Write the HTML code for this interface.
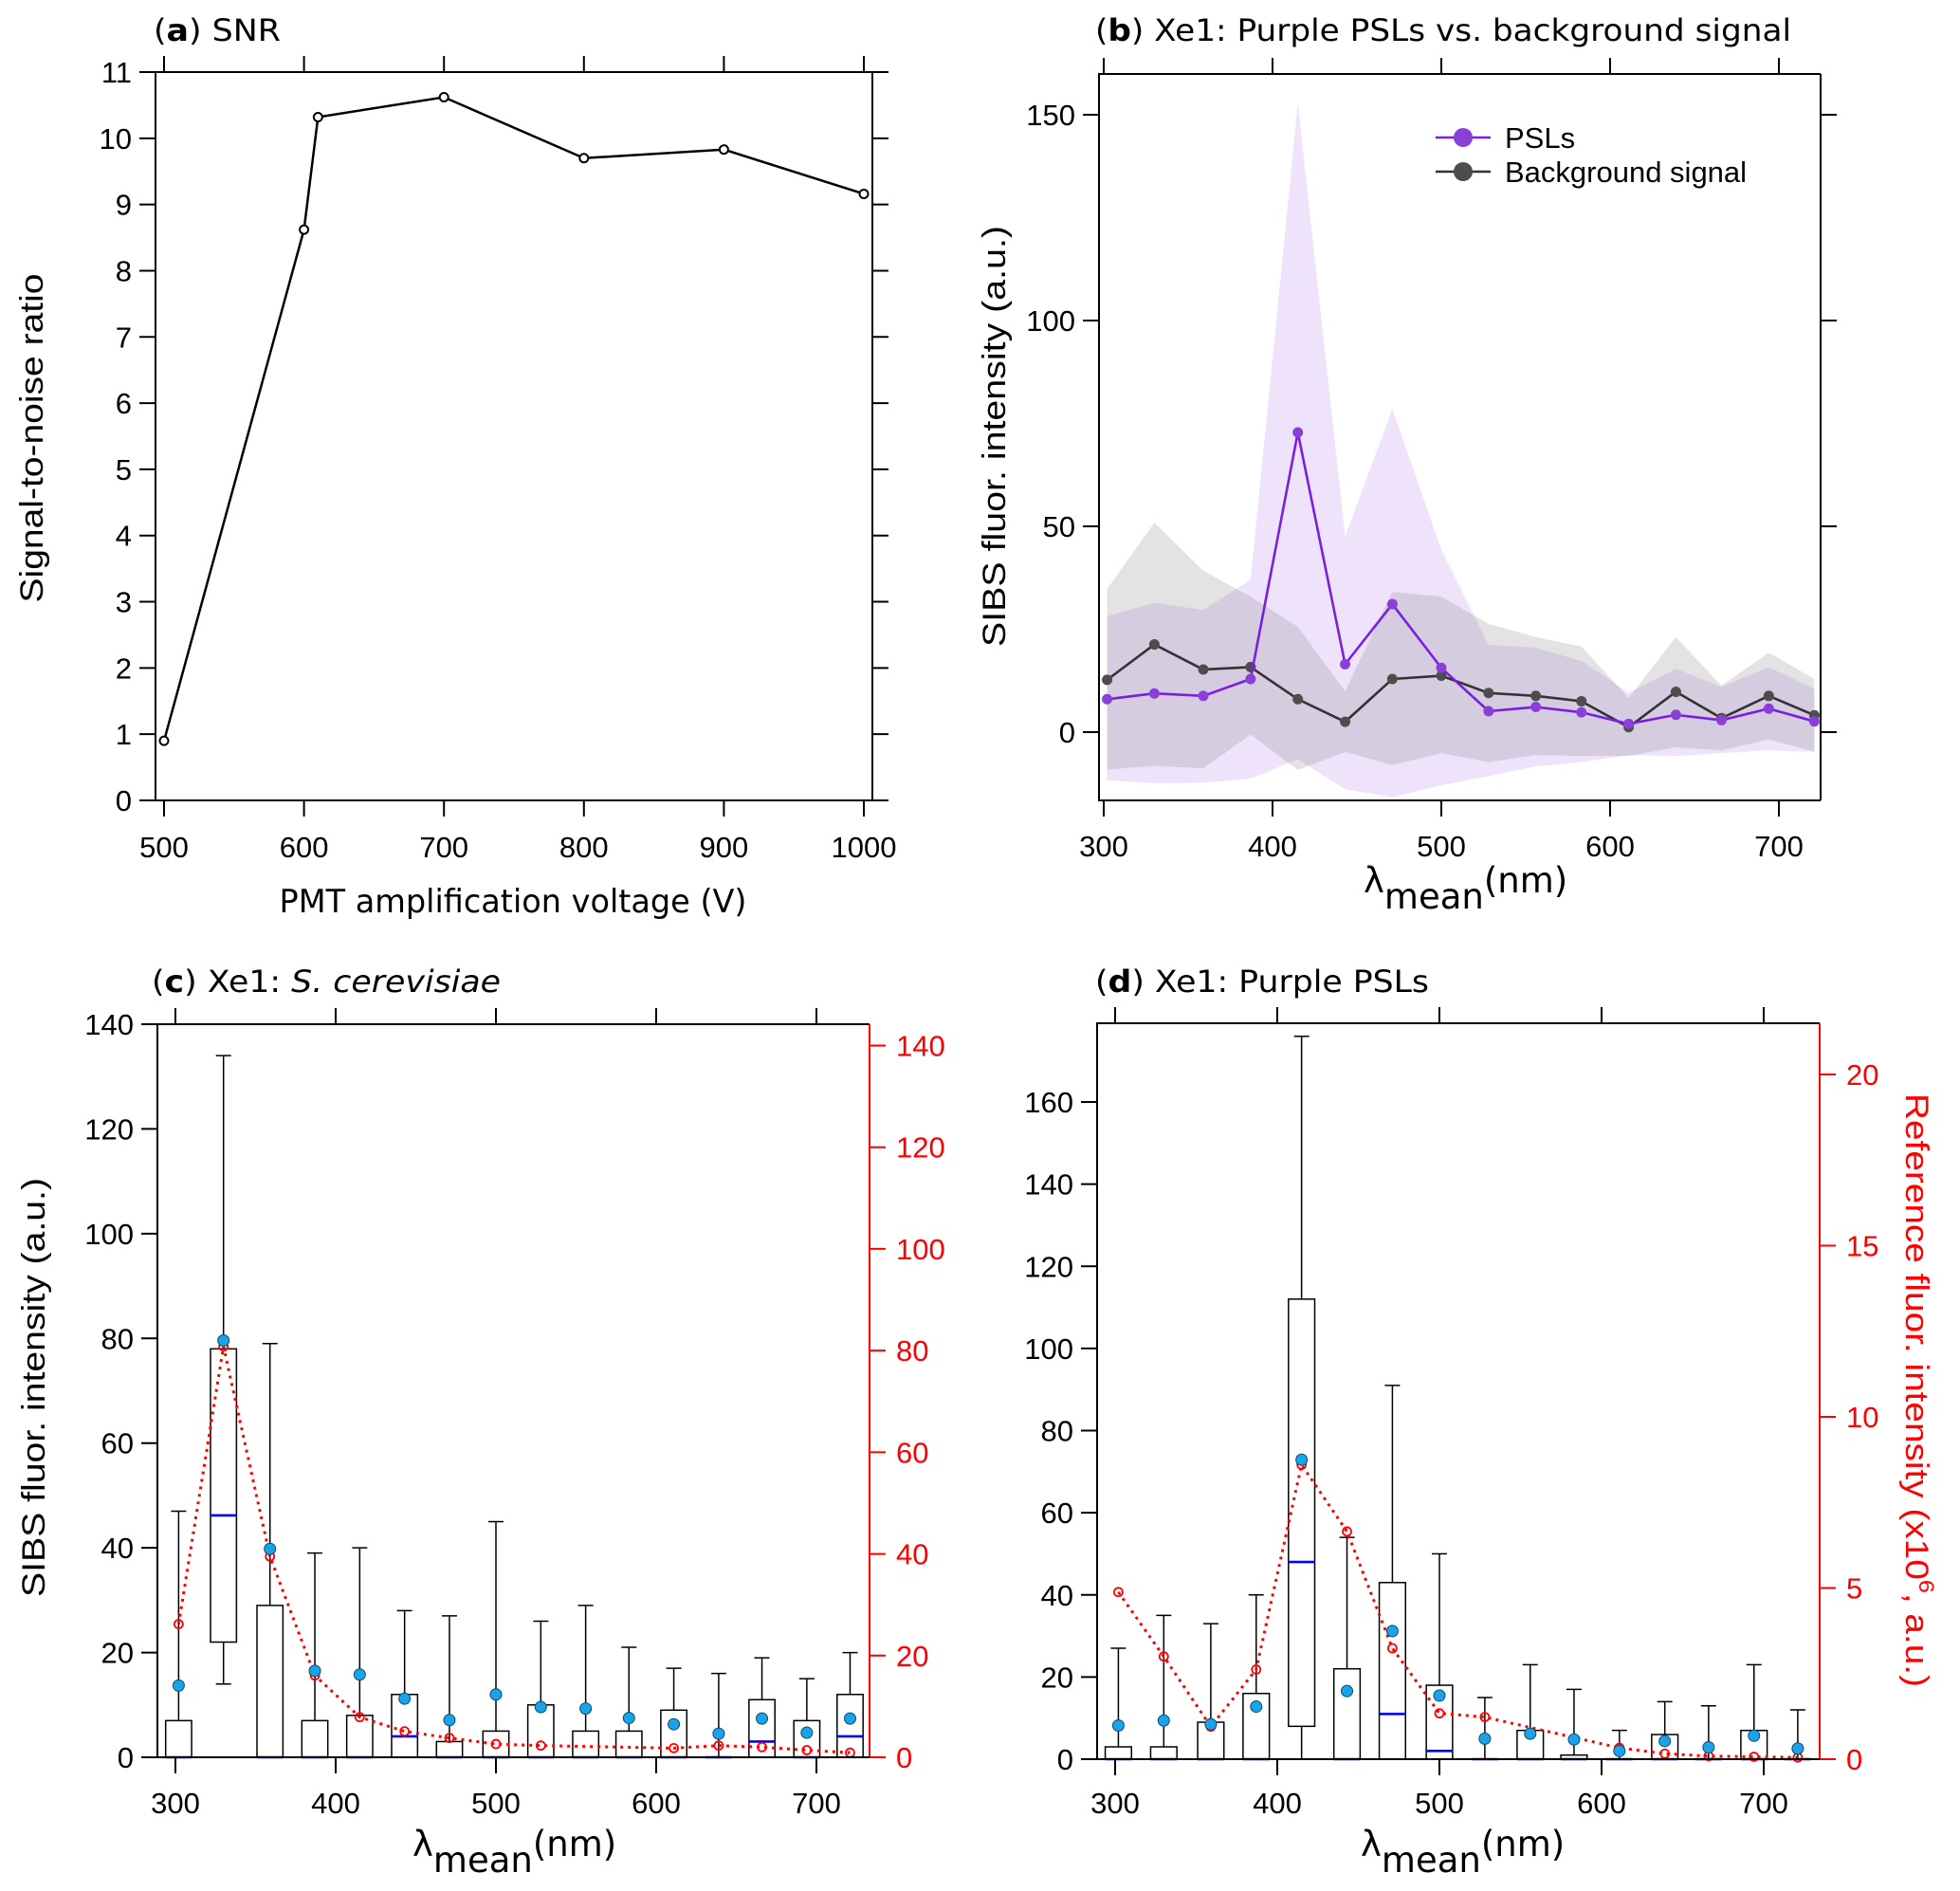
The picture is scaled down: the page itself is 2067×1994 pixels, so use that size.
<!DOCTYPE html>
<html><head><meta charset="utf-8"><style>
html,body{margin:0;padding:0;background:#fff}
svg{display:block}
text{font-family:"Liberation Sans",Arial,sans-serif}
.t{font-family:"DejaVu Sans","Liberation Sans",sans-serif}
</style></head><body>
<svg id="fig" xmlns="http://www.w3.org/2000/svg" width="2067" height="1994" viewBox="0 0 2067 1994">
<rect width="2067" height="1994" fill="#fff"/>
<g id="pa"></g>
<g id="pb"></g>
<g id="pc"></g>
<g id="pd"></g>
</svg>
<script>
// Panel a
const aVolt=[500,600,610,700,800,900,1000];
const aSNR=[0.9,8.62,10.32,10.62,9.7,9.83,9.16];
const aXTicks=[500,600,700,800,900,1000];
const aYTicks=[0,1,2,3,4,5,6,7,8,9,10,11];
// Panel b
const wl=[302,330,359,387,415,443,471,500,528,556,583,611,639,666,694,721];
const bPSL=[8.0,9.4,8.8,12.9,72.8,16.5,31.1,15.6,5.1,6.1,4.8,2.0,4.2,2.9,5.7,2.6];
const bBG=[12.7,21.3,15.2,15.8,8.0,2.5,12.9,13.7,9.5,8.8,7.5,1.2,9.8,3.4,8.8,4.1];
const bPSLup=[28.2,31.4,29.7,37,152.8,47.5,78.5,44.3,21.2,20.5,17.3,9.5,15.4,11,15.8,10.5];
const bPSLlo=[-11.7,-12.4,-12.3,-11.3,-6.6,-13.9,-15.8,-12.9,-10.7,-8.3,-7.3,-5.6,-5.8,-5.1,-4.4,-4.8];
const bBGup=[34.8,50.9,39.2,32.9,25.6,9.9,34.1,32.9,26.3,23.1,20.8,8.3,23.1,11.3,19.3,12.9];
const bBGlo=[-9.1,-8.2,-8.8,-0.6,-9.2,-4.8,-8,-5.1,-7.3,-5.6,-5.8,-5.8,-3.7,-4.4,-1.8,-4.7];
const bYTicks=[0,50,100,150];
const nmTicks=[300,400,500,600,700];
// Panel c
const cQ1=[0,22,0,0,0,0,0,0,0,0,0,0,0,0,0,0];
const cQ3=[7,78,29,7,8,12,3,5,10,5,5,9,0,11,7,12];
const cMed=[0,46.2,0,0,0,4,0,0,0,0,0,0,0,3,0,4];
const cMax=[47,134,79,39,40,28,27,45,26,29,21,17,16,19,15,20];
const cMin=[0,14,0,0,0,0,0,0,0,0,0,0,0,0,0,0];
const cMean=[13.7,79.6,39.8,16.5,15.8,11.2,7.1,12,9.6,9.3,7.5,6.3,4.5,7.4,4.7,7.4];
const cRef=[26.2,80.8,39.5,16.1,7.9,5.1,3.8,2.6,2.3,null,null,1.8,2.3,2.0,1.4,0.9];
const cYTicks=[0,20,40,60,80,100,120,140];
const cRTicks=[0,20,40,60,80,100,120,140];
// Panel d
const dQ1=[0,0,0,0,8,0,0,0,0,0,0,0,0,0,0,0];
const dQ3=[3,3,9,16,112,22,43,18,0,7,1,0,6,0,7,0];
const dMed=[0,0,0,0,48,0,11,2,0,0,0,0,0,0,0,0];
const dMax=[27,35,33,40,176,54,91,50,15,23,17,7,14,13,23,12];
const dMin=[0,0,0,0,0,0,0,0,0,0,0,0,0,0,0,0];
const dMean=[8.2,9.4,8.5,12.8,72.9,16.6,31.2,15.5,5,6.2,4.8,2,4.4,2.9,5.7,2.6];
const dRef=[4.88,3.0,0.95,2.62,8.6,6.65,3.24,1.34,1.23,null,null,0.33,0.16,0.09,0.07,0.05];
const dYTicks=[0,20,40,60,80,100,120,140,160];
const dRTicks=[0,5,10,15,20];

const NS='http://www.w3.org/2000/svg';
function mk(parent,tag,attrs){const e=document.createElementNS(NS,tag);for(const k in attrs)e.setAttribute(k,attrs[k]);parent.appendChild(e);return e;}
function txt(parent,x,y,s,size,anchor,fill,cls){const e=mk(parent,'text',{x:x,y:y,'font-size':size,'text-anchor':anchor||'start',fill:fill||'#000'});if(cls)e.setAttribute('class',cls);e.textContent=s;return e;}
function scale(d0,d1,r0,r1){return v=>r0+(v-d0)/(d1-d0)*(r1-r0);}

function frame(g,L,T,R,B,rightRed){
  mk(g,'path',{d:`M${L},${B}V${T}H${R}`,fill:'none',stroke:'#000','stroke-width':2});
  mk(g,'line',{x1:L-1,y1:B,x2:R,y2:B,stroke:'#000','stroke-width':2});
  mk(g,'line',{x1:R,y1:T,x2:R,y2:B,stroke:rightRed?'#f00':'#000','stroke-width':2});
}
function xTicks(g,ticks,X,T,B,labY,labels){
  ticks.forEach(v=>{const x=X(v);
    mk(g,'line',{x1:x,y1:B,x2:x,y2:B+17,stroke:'#000','stroke-width':2});
    mk(g,'line',{x1:x,y1:T,x2:x,y2:T-17,stroke:'#000','stroke-width':2});
    if(labels){const t=txt(g,x,labY,String(v),31,'middle');}
  });
}
function yTicks(g,ticks,Y,L,R,rightTicks){
  ticks.forEach(v=>{const y=Y(v);
    mk(g,'line',{x1:L-17,y1:y,x2:L,y2:y,stroke:'#000','stroke-width':2});
    if(rightTicks)mk(g,'line',{x1:R,y1:y,x2:R+17,y2:y,stroke:'#000','stroke-width':2});
    const t=txt(g,L-25,y+11,String(v),31,'end');
    
    
  });
}
function title(g,x,y,letter,rest,len){
  const t=mk(g,'text',{x:x,y:y,'font-size':32,class:'t',textLength:len,lengthAdjust:'spacingAndGlyphs'});
  
  
  let s=mk(t,'tspan',{});s.textContent='(';
  s=mk(t,'tspan',{'font-weight':'bold'});s.textContent=letter;
  s=mk(t,'tspan',{});s.textContent=') '+rest[0];
  if(rest[1]){s=mk(t,'tspan',{'font-style':'italic'});s.textContent=rest[1];}
}
function lambdaTitle(g,x0,y){
  const t=mk(g,'text',{x:x0,y:y,'font-size':37,class:'t'});
  
  
  let s=mk(t,'tspan',{});s.textContent='λ';
  s=mk(t,'tspan',{dy:17});s.textContent='mean';
  s=mk(t,'tspan',{dy:-17});s.textContent='(nm)';
}
function vTitle(g,x,y,s,rot,fill,size,len){
  const t=mk(g,'text',{x:0,y:0,'font-size':size||33,'text-anchor':'middle',fill:fill||'#000',transform:`translate(${x},${y}) rotate(${rot})`});
  if(len){t.setAttribute('textLength',len);t.setAttribute('lengthAdjust','spacingAndGlyphs');}
  
  
  t.textContent=s;return t;
}

// ---------- Panel a ----------
(function(){
  const g=document.getElementById('pa');
  const L=164,R=920,T=76,B=844;
  const X=scale(500,1000,173,911),Y=scale(0,11,844,76);
  title(g,162,43,'a',['SNR'],134);
  frame(g,L,T,R,B,false);
  xTicks(g,aXTicks,X,T,B,904,true);
  yTicks(g,aYTicks,Y,L,R,true);
  const d=aVolt.map((v,i)=>(i?'L':'M')+X(v)+','+Y(aSNR[i])).join('');
  const p=mk(g,'path',{d:d,fill:'none',stroke:'#000','stroke-width':2.5});
  
  
  aVolt.forEach((v,i)=>{const c=mk(g,'circle',{cx:X(v),cy:Y(aSNR[i]),r:4.5,fill:'#fff',stroke:'#000','stroke-width':2});
    
    });
  const xt=txt(g,541,962,'PMT amplification voltage (V)',34,'middle','#000','t');
  xt.setAttribute('textLength',493);xt.setAttribute('lengthAdjust','spacingAndGlyphs');
  
  
  vTitle(g,45,462,'Signal-to-noise ratio',-90,'#000',34,347);
})();

// ---------- Panel b ----------
(function(){
  const g=document.getElementById('pb');
  const L=1159,R=1920,T=78,B=844;
  const X=scale(300,700,1164,1876),Y=scale(0,150,772,121);
  title(g,1155,43,'b',['Xe1: Purple PSLs vs. background signal'],734);
  const cp=mk(g,'clipPath',{id:'clipb'});mk(cp,'rect',{x:L,y:T,width:R-L,height:B-T});
  const area=(up,lo)=>wl.map((v,i)=>(i?'L':'M')+X(v)+','+Y(up[i])).join('')+wl.slice().reverse().map((v,j)=>{const i=wl.length-1-j;return 'L'+X(v)+','+Y(lo[i]);}).join('')+'Z';
  const a1=mk(g,'path',{d:area(bPSLup,bPSLlo),fill:'rgb(175,110,235)','fill-opacity':0.2,'clip-path':'url(#clipb)'});
  
  
  const a2=mk(g,'path',{d:area(bBGup,bBGlo),fill:'rgb(128,128,128)','fill-opacity':0.22,'clip-path':'url(#clipb)'});
  
  
  frame(g,L,T,R,B,false);
  xTicks(g,nmTicks,X,T,B,903,true);
  yTicks(g,bYTicks,Y,L,R,true);
  function series(vals,col,mcol,name){
    const p=mk(g,'path',{d:wl.map((v,i)=>(i?'L':'M')+X(v)+','+Y(vals[i])).join(''),fill:'none',stroke:col,'stroke-width':2.6});
    
    
    wl.forEach((v,i)=>{const c=mk(g,'circle',{cx:X(v),cy:Y(vals[i]),r:5.5,fill:mcol});
      
      });
  }
  series(bBG,'#333','#4d4d4d','background');
  series(bPSL,'#7a1fe0','#8a40d8','psl');
  const lg=mk(g,'g',{});
  
  
  mk(lg,'line',{x1:1514,y1:145,x2:1572,y2:145,stroke:'#7a1fe0','stroke-width':2.6});
  mk(lg,'circle',{cx:1543,cy:145,r:10,fill:'#8a40d8'});
  txt(lg,1587,156,'PSLs',31);
  mk(lg,'line',{x1:1514,y1:181,x2:1572,y2:181,stroke:'#333','stroke-width':2.6});
  mk(lg,'circle',{cx:1543,cy:181,r:10,fill:'#4d4d4d'});
  txt(lg,1587,192,'Background signal',31);
  lambdaTitle(g,1438,941);
  vTitle(g,1060,460,'SIBS fluor. intensity (a.u.)',-90,'#000',34,444);
})();

// ---------- Box panels ----------
function boxPanel(g,o){
  const {L,R,T,B,X,Y,YR}=o;
  title(g,o.tx,1046,o.letter,o.rest,o.tlen);
  frame(g,L,T,R,B,true);
  xTicks(g,nmTicks,X,T,B,1912,true);
  yTicks(g,o.yt,Y,L,R,false);
  o.rt.forEach(v=>{const y=YR(v);
    mk(g,'line',{x1:R,y1:y,x2:R+17,y2:y,stroke:'#f00','stroke-width':2});
    const t=txt(g,R+28,y+11,String(v),31,'start','#f00');
    
    });
  const hw=8.1;
  wl.forEach((v,i)=>{
    const x=X(v),x0=X(v-hw),x1=X(v+hw);
    const bg=mk(g,'g',{});
    
    
    mk(bg,'line',{x1:x,y1:Y(o.q3[i]),x2:x,y2:Y(o.max[i]),stroke:'#000','stroke-width':1.5});
    mk(bg,'line',{x1:x-8,y1:Y(o.max[i]),x2:x+8,y2:Y(o.max[i]),stroke:'#000','stroke-width':1.5});
    if(o.min[i]<o.q1[i]){
      mk(bg,'line',{x1:x,y1:Y(o.q1[i]),x2:x,y2:Y(o.min[i]),stroke:'#000','stroke-width':1.5});
      if(o.min[i]>0)mk(bg,'line',{x1:x-8,y1:Y(o.min[i]),x2:x+8,y2:Y(o.min[i]),stroke:'#000','stroke-width':1.5});
    }
    if(o.q3[i]>o.q1[i])mk(bg,'rect',{x:x0,y:Y(o.q3[i]),width:x1-x0,height:Y(o.q1[i])-Y(o.q3[i]),fill:'#fff',stroke:'#000','stroke-width':1.5});
    mk(bg,'line',{x1:x0,y1:Y(o.med[i]),x2:x1,y2:Y(o.med[i]),stroke:'#00f','stroke-width':2.6});
  });
  let d='',pen=false;
  wl.forEach((v,i)=>{if(o.ref[i]==null){return;}d+=(pen?'L':'M')+X(v)+','+YR(o.ref[i]);pen=true;});
  const rl=mk(g,'path',{d:d,fill:'none',stroke:'#f00','stroke-width':3,'stroke-dasharray':'3,5'});
  
  
  wl.forEach((v,i)=>{if(o.ref[i]==null)return;
    const c=mk(g,'circle',{cx:X(v),cy:YR(o.ref[i]),r:4.5,fill:'none',stroke:'#f00','stroke-width':1.8});
    
    });
  wl.forEach((v,i)=>{const c=mk(g,'circle',{cx:X(v),cy:Y(o.mean[i]),r:6,fill:'#1aa3e8',stroke:'#0a4a70','stroke-width':1});
    
    });
  mk(g,'line',{x1:L-17,y1:B,x2:R,y2:B,stroke:'#000','stroke-width':2});
  lambdaTitle(g,o.lx,1957);
}
(function(){
  const g=document.getElementById('pc');
  boxPanel(g,{L:166,R:917,T:1080,B:1853,X:scale(300,400,185,354),Y:scale(0,140,1853,1080),YR:scale(0,140,1853,1102.5),
    q1:cQ1,q3:cQ3,med:cMed,max:cMax,min:cMin,mean:cMean,ref:cRef,yt:cYTicks,rt:cRTicks,
    tx:160,letter:'c',rest:['Xe1: ','S. cerevisiae'],tlen:368,lx:435});
  vTitle(g,47,1463,'SIBS fluor. intensity (a.u.)',-90,'#000',34,442);
})();
(function(){
  const g=document.getElementById('pd');
  boxPanel(g,{L:1157,R:1919,T:1079,B:1855,X:scale(300,700,1176,1860),Y:scale(0,160,1855,1162),YR:scale(0,20,1855,1133),
    q1:dQ1,q3:dQ3,med:dMed,max:dMax,min:dMin,mean:dMean,ref:dRef,yt:dYTicks,rt:dRTicks,
    tx:1155,letter:'d',rest:['Xe1: Purple PSLs'],tlen:352,lx:1435});
  const t=mk(g,'text',{x:0,y:0,'font-size':34,'text-anchor':'middle',fill:'#f00',transform:'translate(2010,1466) rotate(90)',textLength:626,lengthAdjust:'spacingAndGlyphs'});
  
  
  let s=mk(t,'tspan',{});s.textContent='Reference fluor. intensity (x10';
  s=mk(t,'tspan',{dy:-14,'font-size':22});s.textContent='6';
  s=mk(t,'tspan',{dy:14});s.textContent=', a.u.)';
})();
</script>
</body></html>
